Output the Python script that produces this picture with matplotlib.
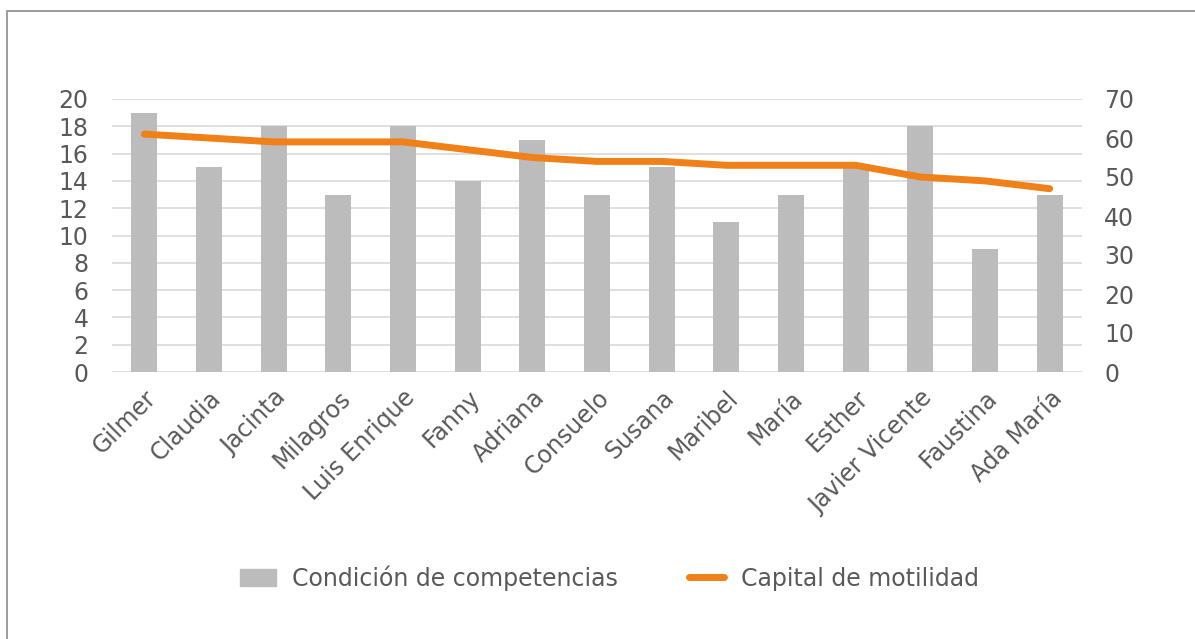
import matplotlib.pyplot as plt
import matplotlib.patches as mpatches
import numpy as np

plt.rcParams['font.family'] = ['DejaVu Sans']

# Data
names = ['Gilmer', 'Claudia', 'Jacinta', 'Milagros', 'Luis Enrique', 'Fanny',
         'Adriana', 'Consuelo', 'Susana', 'Maribel', 'María', 'Esther',
         'Javier Vicente', 'Faustina', 'Ada María']
competencias = [19, 15, 18, 13, 18, 14, 17, 13, 15, 11, 13, 15, 18, 9, 13]
motilidad = [61, 60, 59, 59, 59, 57, 55, 54, 54, 53, 53, 53, 50, 49, 47]

text_color = '#595959'
bar_color = '#bcbcbc'
line_color = '#f08018'
grid_color = '#d9d9d9'
fs = 17

fig = plt.figure(figsize=(11.95, 6.39), dpi=100)
ax = fig.add_axes([112 / 1195, 1 - 372 / 639, (1082 - 112) / 1195, (372 - 99) / 639])
ax2 = ax.twinx()

x = np.arange(len(names))
ax.bar(x, competencias, width=0.4, color=bar_color, zorder=2)
ax2.plot(x, motilidad, color=line_color, lw=5, solid_capstyle='round',
         solid_joinstyle='round', zorder=3)

ax.set_xlim(-0.5, len(names) - 0.5)
ax.set_ylim(0, 20)
ax.set_yticks(range(0, 21, 2))
ax2.set_ylim(0, 70)
ax2.set_yticks(range(0, 71, 10))

ax.yaxis.grid(True, color=grid_color, lw=1.2, zorder=0)
ax.set_axisbelow(True)

for a in (ax, ax2):
    for s in a.spines.values():
        s.set_visible(False)
    a.tick_params(length=0, labelsize=fs, colors=text_color)

ax.set_xticks(x)
ax.set_xticklabels(names, rotation=45, ha='right', rotation_mode='anchor')
ax.tick_params(axis='x', pad=10)
ax.tick_params(axis='y', pad=17)
ax2.tick_params(axis='y', pad=16)

# Legend
handles = [mpatches.Patch(color=bar_color, label='Condición de competencias'),
           plt.Line2D([], [], color=line_color, lw=5, solid_capstyle='round',
                      label='Capital de motilidad')]
fig.legend(handles=handles, loc='center', bbox_to_anchor=(0.51, 1 - 578 / 639),
           ncol=2, frameon=False, fontsize=fs, labelcolor=text_color,
           columnspacing=3.0, handlelength=1.5, handletextpad=0.7)

# Outer frame
frame = mpatches.Rectangle((7 / 1195, -0.05), 1.2, 1 - 11 / 639 + 0.05,
                           transform=fig.transFigure, fill=False,
                           edgecolor='#8c8c8c', lw=1.2)
fig.patches.append(frame)

fig.savefig('out.png', dpi=100, facecolor='white')
